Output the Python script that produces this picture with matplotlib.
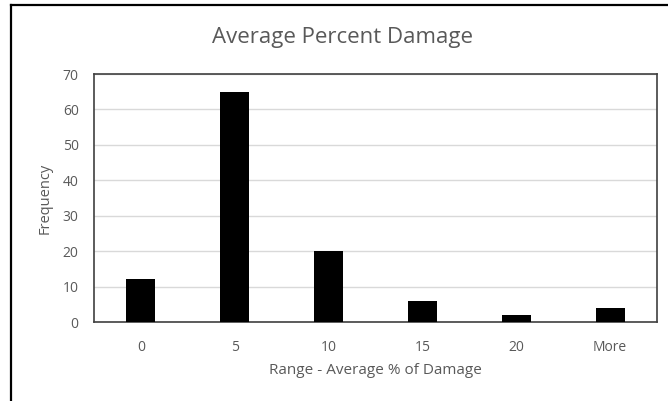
import matplotlib.pyplot as plt
from matplotlib.lines import Line2D

# data
categories = ["0", "5", "10", "15", "20", "More"]
frequency = [12, 65, 20, 6, 2, 4]

y_ticks = [0, 10, 20, 30, 40, 50, 60, 70]

grey_text = "#595959"
plt.rcParams["font.family"] = ["Open Sans", "DejaVu Sans"]

W, H = 668, 401
fig = plt.figure(figsize=(W / 100, H / 100), dpi=100)

# axes placed in pixel coords (left 94, right 657, top 74, bottom 322)
ax = fig.add_axes([94 / W, 1 - 322 / H, (657 - 94) / W, (322 - 74) / H])

x = range(len(categories))
ax.bar(x, frequency, width=0.31, color="black", zorder=3)

ax.set_xlim(-0.5, len(categories) - 0.5)
ax.set_ylim(0, 70)
ax.set_yticks(y_ticks)
ax.set_xticks(list(x))
ax.set_xticklabels(categories)
ax.tick_params(length=0, labelsize=10, colors=grey_text)
ax.tick_params(axis="x", pad=13)
ax.tick_params(axis="y", pad=11)
ax.grid(axis="y", color="#d9d9d9", linewidth=1, zorder=0)
for s in ax.spines.values():
    s.set_color("#404040")
    s.set_linewidth(1.2)

ax.set_xlabel("Range - Average % of Damage", fontsize=11, color=grey_text, labelpad=6)
ax.set_ylabel("Frequency", fontsize=10.5, color=grey_text, labelpad=7)
fig.text(343 / W, 1 - 38 / H, "Average Percent Damage", fontsize=16,
         color=grey_text, ha="center", va="center")

# outer frame (left and top only) and the clipped glyph above it
fig.add_artist(Line2D([11 / W, 11 / W], [0, 1 - 5 / H], color="black", linewidth=1.6,
                      transform=fig.transFigure))
fig.add_artist(Line2D([11 / W, 1], [1 - 5 / H, 1 - 5 / H], color="black", linewidth=1.6,
                      transform=fig.transFigure))
fig.text(376 / W, 1 + 4 / H, "g", fontsize=14, family="DejaVu Serif",
         color="black", ha="center", va="baseline")

fig.savefig("out.png", dpi=100)
